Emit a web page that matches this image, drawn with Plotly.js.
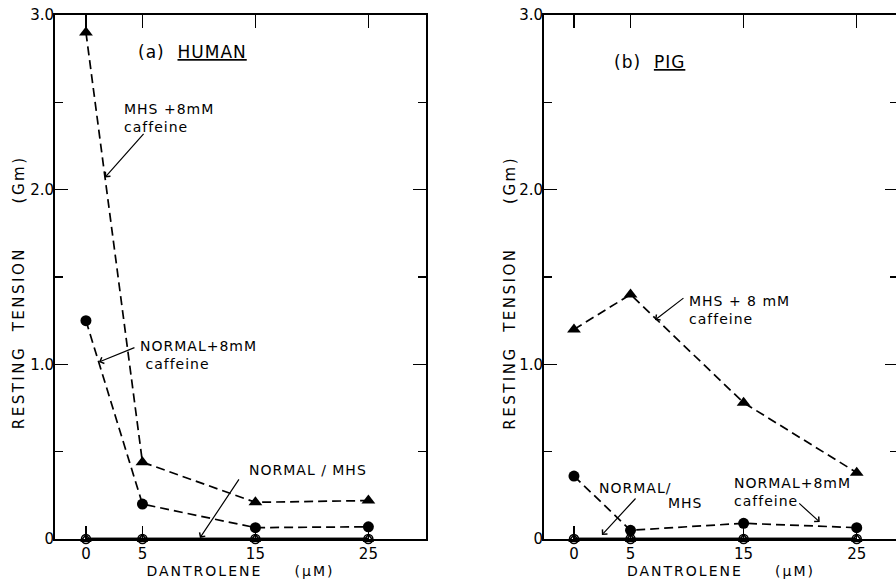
<!DOCTYPE html>
<html>
<head>
<meta charset="utf-8">
<script src="https://cdn.plot.ly/plotly-3.0.1.min.js"></script>
<style>
  html, body { margin: 0; padding: 0; background: #fff; overflow: hidden; }
  #chart { width: 900px; height: 586px; }
  text.xtitle, text.x2title { letter-spacing: 2px; }
  .annotation-text { letter-spacing: 1px; }
</style>
</head>
<body>
<div id="chart"></div>
<script>
// Dantrolene concentrations (µM)
const doses = [0, 5, 15, 25];
const doseLabels = ['0', '5', '15', '25'];

// (a) Human muscle, resting tension (Gm)
const humanMhsCaffeine = [2.9, 0.44, 0.21, 0.22];
const humanNormalCaffeine = [1.25, 0.2, 0.065, 0.07];
const humanNormal = [0, 0, 0, 0];
const humanMhs = [0, 0, 0, 0];

// (b) Pig muscle, resting tension (Gm)
const pigMhsCaffeine = [1.2, 1.4, 0.78, 0.38];
const pigNormalCaffeine = [0.36, 0.05, 0.09, 0.065];
const pigNormal = [0, 0, 0, 0];
const pigMhs = [0, 0, 0, 0];

// Tension axis labels
const tensionTicks = [0, 1, 2, 3];
const tensionLabels = ['0', '1.0', '2.0', '3.0'];

const FONT = 'DejaVu Sans, Arial, sans-serif';
const dashed = '9px,5px';
const sp = n => '\u00a0'.repeat(n);

function dashedSeries(y, symbol, size, xa, ya) {
  return {
    x: doses, y: y, xaxis: xa, yaxis: ya, type: 'scatter', mode: 'lines+markers',
    cliponaxis: false, showlegend: false,
    line: { color: '#000', width: 1.7, dash: dashed },
    marker: { symbol: symbol, size: size, color: '#000' }
  };
}
function baselineSeries(y, symbol, xa, ya) {
  return {
    x: doses, y: y, xaxis: xa, yaxis: ya, type: 'scatter', mode: 'lines+markers',
    cliponaxis: false, showlegend: false,
    line: { color: '#000', width: 2.5 },
    marker: { symbol: symbol, size: 9, color: '#000', line: { color: '#000', width: 1.5 } }
  };
}

const traces = [
  dashedSeries(humanMhsCaffeine, 'triangle-up', 12, 'x', 'y'),
  dashedSeries(humanNormalCaffeine, 'circle', 11, 'x', 'y'),
  baselineSeries(humanNormal, 'circle-open', 'x', 'y'),
  baselineSeries(humanMhs, 'triangle-up-open', 'x', 'y'),
  dashedSeries(pigMhsCaffeine, 'triangle-up', 12, 'x2', 'y2'),
  dashedSeries(pigNormalCaffeine, 'circle', 11, 'x2', 'y2'),
  baselineSeries(pigNormal, 'circle-open', 'x2', 'y2'),
  baselineSeries(pigMhs, 'triangle-up-open', 'x2', 'y2')
];

function xAxis(domain, range, anchor) {
  return {
    domain: domain, range: range, anchor: anchor,
    tickvals: doses, ticktext: doseLabels,
    ticks: 'inside', ticklen: 13, tickwidth: 1.5, tickcolor: '#000',
    showline: true, linecolor: '#000', linewidth: 2, mirror: 'allticks',
    showgrid: false, zeroline: false,
    tickfont: { family: FONT, size: 15, color: '#000' },
    title: { text: 'DANTROLENE' + sp(5) + '(\u00b5M)', font: { family: FONT, size: 14, color: '#000' }, standoff: 2 }
  };
}
function yAxis(anchor) {
  return {
    domain: [0, 1], range: [0, 3], anchor: anchor,
    tickvals: tensionTicks, ticktext: tensionLabels,
    ticks: 'inside', ticklen: 13, tickwidth: 1.5, tickcolor: '#000',
    minor: { tickmode: 'linear', tick0: 0, dtick: 0.5, ticks: 'inside', ticklen: 8, tickwidth: 1.5, tickcolor: '#000', showgrid: false },
    showline: true, linecolor: '#000', linewidth: 2, mirror: 'allticks',
    showgrid: false, zeroline: false, ticklabelstandoff: -4,
    tickfont: { family: FONT, size: 15, color: '#000' }
  };
}

const noteFont = { family: FONT, size: 14, color: '#000' };
function note(xref, yref, x, y, text, extra) {
  return Object.assign({ xref: xref, yref: yref, x: x, y: y, text: text, showarrow: false,
    xanchor: 'left', yanchor: 'middle', align: 'left', font: noteFont }, extra || {});
}
function pointer(xref, yref, x, y, ax, ay) {
  return { xref: xref, yref: yref, x: x, y: y, ax: ax, ay: ay, text: '', showarrow: true,
    arrowhead: 4, arrowsize: 1.1, arrowwidth: 1.2, arrowcolor: '#000' };
}
// Vertical tension titles, one per panel
function tensionTitle(x) {
  return { xref: 'paper', yref: 'paper', x: x, y: 0.47, textangle: -90, showarrow: false,
    xanchor: 'center', yanchor: 'middle',
    text: '<span style="letter-spacing:2.5px">RESTING' + sp(2) + 'TENSION' + sp(6) + '(Gm)</span>',
    font: { family: FONT, size: 15, color: '#000' } };
}

const annotations = [
  tensionTitle(18.5 / 900),
  tensionTitle(510 / 900),
  // (a) Human
  note('x', 'y', 9.4, 2.79, '(a)' + sp(2) + '<u>HUMAN</u>', { xanchor: 'center', font: { family: FONT, size: 17, color: '#000' } }),
  note('x', 'y', 3.2, 2.41, 'MHS' + sp(1) + '+8mM<br>caffeine'),
  pointer('x', 'y', 1.68, 2.07, 40, -45),
  note('x', 'y', 4.6, 1.053, 'NORMAL+8mM<br>' + sp(1) + 'caffeine'),
  pointer('x', 'y', 1.15, 1.013, 37, -15),
  note('x', 'y', 19.65, 0.395, 'NORMAL' + sp(1) + '/' + sp(1) + 'MHS', { xanchor: 'center' }),
  pointer('x', 'y', 10.09, 0.006, 40, -60),
  // (b) Pig
  note('x2', 'y2', 6.7, 2.73, '(b)' + sp(2) + '<u>PIG</u>', { xanchor: 'center', font: { family: FONT, size: 17, color: '#000' } }),
  note('x2', 'y2', 9.98, 1.31, 'MHS' + sp(1) + '+' + sp(1) + '8' + sp(1) + 'mM<br>caffeine'),
  pointer('x2', 'y2', 7.16, 1.254, 30, -23),
  note('x2', 'y2', 2.03, 0.292, 'NORMAL/'),
  note('x2', 'y2', 8.13, 0.206, 'MHS'),
  pointer('x2', 'y2', 2.47, 0.023, 35, -38),
  note('x2', 'y2', 13.96, 0.269, 'NORMAL+8mM<br>caffeine'),
  pointer('x2', 'y2', 21.73, 0.097, -22, -20)
];

const layout = {
  width: 900, height: 586,
  margin: { l: 0, r: 0, t: 15, b: 47 },
  paper_bgcolor: '#fff', plot_bgcolor: '#fff',
  showlegend: false,
  xaxis: xAxis([55 / 900, 426 / 900], [-2.74, 30.1], 'y'),
  yaxis: yAxis('x'),
  xaxis2: xAxis([544 / 900, 898 / 900], [-2.65, 28.65], 'y2'),
  yaxis2: yAxis('x2'),
  annotations: annotations
};

Plotly.newPlot('chart', traces, layout, { staticPlot: true, displayModeBar: false });
</script>
</body>
</html>
